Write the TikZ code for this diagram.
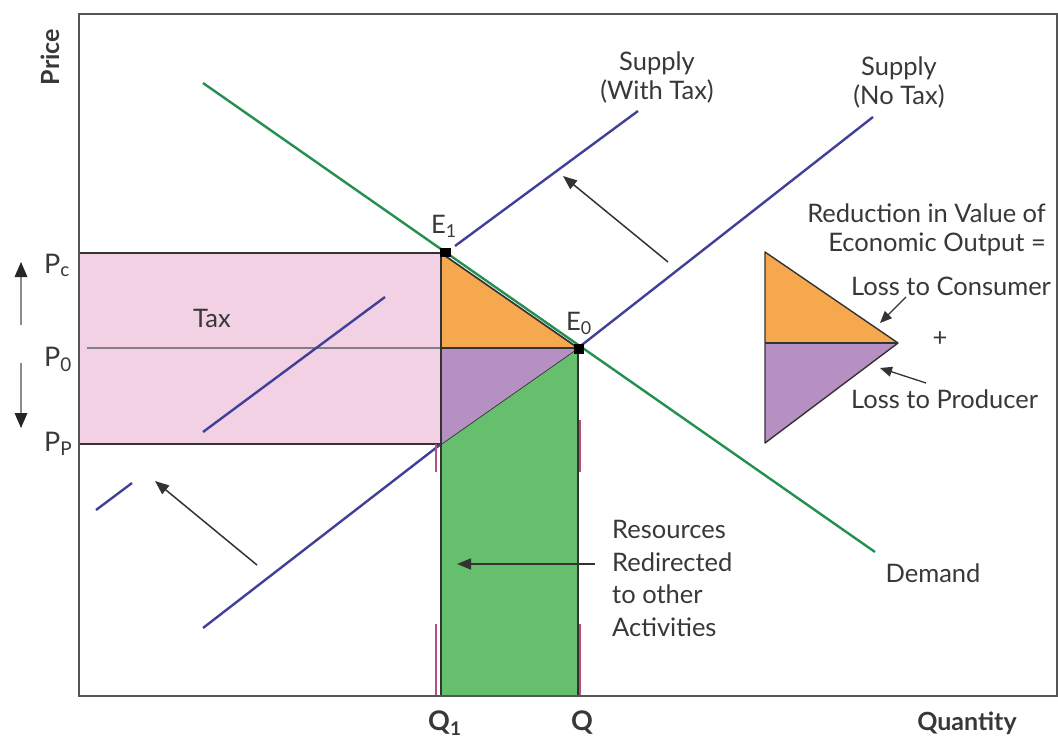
\documentclass[tikz,border=0pt]{standalone}
\usepackage{fontspec}
\setmainfont{Lato}
\usetikzlibrary{arrows.meta}
\definecolor{txt}{HTML}{383838}
\definecolor{pinkfill}{HTML}{F2D1E4}
\definecolor{orangefill}{HTML}{F6A84F}
\definecolor{purplefill}{HTML}{B790C3}
\definecolor{greenfill}{HTML}{66BF6D}
\definecolor{demandcol}{HTML}{23904F}
\definecolor{supplycol}{HTML}{40409A}
\definecolor{framecol}{HTML}{555555}
\definecolor{markcol}{HTML}{B4507F}
\tikzset{
  lbl/.style={text=txt, font=\fontsize{25.5}{29}\selectfont, inner sep=0pt},
  biglbl/.style={text=txt, font=\fontsize{27}{30}\selectfont, inner sep=0pt},
  axlbl/.style={text=txt, font=\bfseries\fontsize{25}{29}\selectfont, inner sep=0pt},
  edge/.style={draw=black!80, line width=1.7pt, line join=round},
  supplyline/.style={draw=supplycol, line width=2.4pt},
  demandline/.style={draw=demandcol, line width=2.4pt},
  blkarrow/.style={draw=black!80, line width=1.5pt, -{Triangle[length=14pt,width=11pt]}},
  grayline/.style={draw=black!45, line width=2pt},
  headfill/.style={fill=black!85},
  markline/.style={draw=markcol, line width=2.4pt},
}
\begin{document}
\begin{tikzpicture}[x=1pt,y=-1pt]
\useasboundingbox (0,0) rectangle (1058,742);
% key points
\coordinate (E1) at (441,253);
\coordinate (E0) at (578,348);
\coordinate (A) at (441,348);
\coordinate (B) at (441,444);
\coordinate (C) at (441,696);
\coordinate (D) at (578,696);
\coordinate (PcL) at (79,253);
\coordinate (PpL) at (79,444);
\coordinate (P0L) at (87,348);
% pink tax rectangle
\fill[pinkfill] (PcL) rectangle (B);
\draw[edge] (PcL) -- (E1);
\draw[edge] (PpL) -- (B);
\draw[draw=black!50, line width=1.8pt] (P0L) -- (A);
% supply with tax (segments)
\coordinate (T1) at (96,510);
\coordinate (T2) at (132,483);
\coordinate (T3) at (203,432);
\coordinate (T4) at (385,297);
\coordinate (T5) at (455,246);
\coordinate (T6) at (638,111);
\draw[supplyline] (T1) -- (T2);
\draw[supplyline] (T3) -- (T4);
\draw[supplyline] (T5) -- (T6);
% supply no tax
\coordinate (S1) at (203,628);
\coordinate (S2) at (873,117);
\draw[supplyline] (S1) -- (B);
\draw[supplyline] (E0) -- (S2);
% marks
\draw[markline] (436,444) -- (436,472);
\draw[markline] (436,624) -- (436,696);
\draw[markline] (580,420) -- (580,472);
\draw[markline] (580,624) -- (580,696);
% areas
\fill[greenfill] (B) -- (E0) -- (D) -- (C) -- cycle;
\draw[edge] (B) -- (E0) -- (D);
\draw[edge] (B) -- (C);
\fill[orangefill] (E1) -- (E0) -- (A) -- cycle;
\fill[purplefill] (A) -- (E0) -- (B) -- cycle;
\draw[edge] (E1) -- (B);
\draw[edge] (A) -- (E0);
% demand
\coordinate (D1) at (203,83);
\coordinate (D2) at (875,552);
\draw[demandline] (D1) -- (D2);
\draw[edge] (E1) -- (E0);
% equilibrium markers
\fill[black] (440,248) rectangle (451,257);
\fill[black] (574,344) rectangle (584,354);
% frame
\draw[draw=framecol, line width=2.2pt] (79,14) rectangle (1057,696);
% arrows
\coordinate (U1) at (668,262);
\coordinate (U2) at (563,176);
\draw[blkarrow] (U1) -- (U2);
\coordinate (V1) at (257,565);
\coordinate (V2) at (155,481);
\draw[blkarrow] (V1) -- (V2);
\coordinate (R1) at (595,564);
\coordinate (R2) at (457,564);
\draw[blkarrow] (R1) -- (R2);
\coordinate (UA1) at (21,325);
\coordinate (UA2) at (21,262);
\draw[grayline] (UA1) -- ([yshift=-10pt]UA2);
\fill[headfill] (UA2) -- ++(-6.5,15) -- ++(13,0) -- cycle;
\coordinate (DA1) at (21,363);
\coordinate (DA2) at (21,428);
\draw[grayline] (DA1) -- ([yshift=10pt]DA2);
\fill[headfill] (DA2) -- ++(-6.5,-15) -- ++(13,0) -- cycle;
% legend triangles
\coordinate (L1) at (765,252);
\coordinate (L2) at (898,343);
\coordinate (L3) at (765,343);
\coordinate (L4) at (765,443);
\fill[orangefill] (L1) -- (L2) -- (L3) -- cycle;
\fill[purplefill] (L3) -- (L2) -- (L4) -- cycle;
\draw[edge, line width=1.4pt] (L1) -- (L2) -- (L4) -- cycle;
\draw[edge, line width=1.4pt] (L3) -- (L2);
\coordinate (LA1) at (906,297);
\coordinate (LA2) at (880,323);
\draw[blkarrow, line width=1.3pt, -{Triangle[length=12pt,width=10pt]}] (LA1) -- (LA2);
\coordinate (LB1) at (926,383);
\coordinate (LB2) at (880,368);
\draw[blkarrow, line width=1.3pt, -{Triangle[length=12pt,width=10pt]}] (LB1) -- (LB2);
% labels
\node[axlbl, rotate=90] (price) at (50,57) {Price};
\node[axlbl] (qty) at (967,723) {Quantity};
\node[biglbl, anchor=base west] (pc) at (44,273) {P\textsubscript{c}};
\node[biglbl, anchor=base west] (p0) at (44,366) {P\textsubscript{0}};
\node[biglbl, anchor=base west] (pp) at (44,451) {P\textsubscript{P}};
\node[biglbl, anchor=base west, font=\bfseries\fontsize{27}{30}\selectfont] (q1) at (428,730) {Q\textsubscript{1}};
\node[biglbl, anchor=base, font=\bfseries\fontsize{27}{30}\selectfont] (q) at (582,730) {Q};
\node[lbl, anchor=base west] (e1) at (431,233) {E\textsubscript{1}};
\node[lbl, anchor=base west] (e0) at (566,330) {E\textsubscript{0}};
\node[lbl] (tax) at (212,318) {Tax};
\node[lbl, align=center] (swt) at (657,77) {Supply\\(With Tax)};
\node[lbl, align=center] (snt) at (899,82) {Supply\\(No Tax)};
\node[lbl, align=right, anchor=north east] (red) at (1046,204) {Reduction in Value of\\Economic Output =};
\node[lbl, anchor=base west] (lc) at (851,295) {Loss to Consumer};
\node[lbl] (plus) at (940,339) {+};
\node[lbl, anchor=base west] (lp) at (851,408) {Loss to Producer};
\node[lbl] (dem) at (933,573) {Demand};
\node[lbl, align=left, anchor=north west, font=\fontsize{25.5}{32.6}\selectfont] (res) at (612,520) {Resources\\Redirected\\to other\\Activities};
\end{tikzpicture}
\end{document}
